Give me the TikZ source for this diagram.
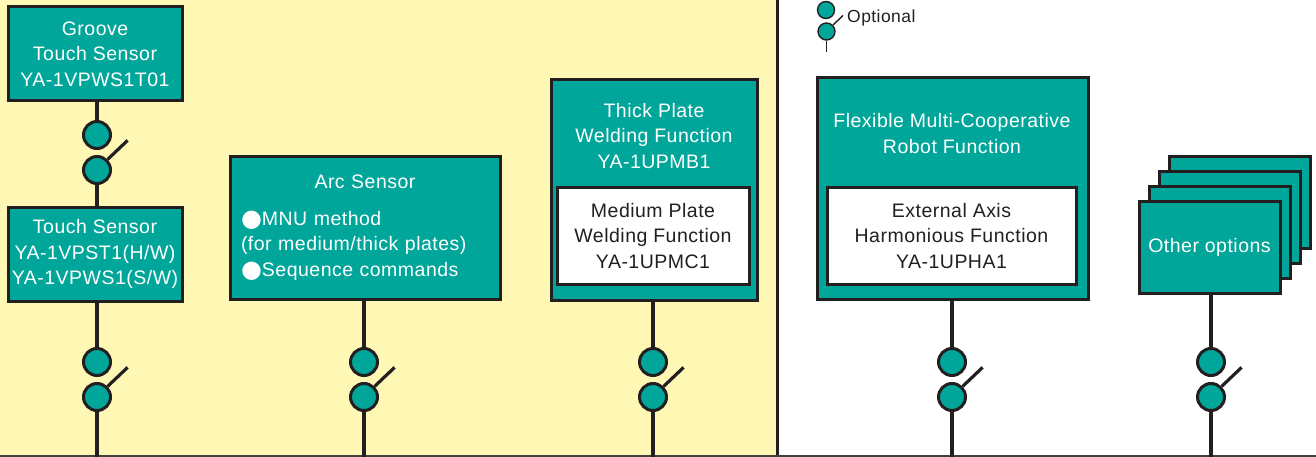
\documentclass[tikz,border=0pt]{standalone}
\usepackage{fontspec}
\setmainfont{Liberation Sans}[LetterSpace=2.5]
\newfontfamily\symfont{DejaVu Sans}
\definecolor{optteal}{RGB}{0,166,153}
\definecolor{panelyel}{RGB}{255,248,180}
\definecolor{inkc}{RGB}{35,31,32}
\newcommand{\blt}{\raisebox{-1.5pt}{\symfont\fontsize{24}{24}\selectfont ●}}

\begin{document}
\begin{tikzpicture}[x=1pt,y=-1pt,
  every node/.style={font=\fontsize{19.5}{25.5}\selectfont},
  optbox/.style={draw=inkc,fill=optteal,line width=3pt,text=white,inner sep=0pt,align=center},
  subbox/.style={draw=inkc,fill=white,line width=3pt,text=inkc,inner sep=0pt,align=center},
  title/.style={text=white,align=center,inner sep=0pt},
  swc/.style={circle,draw=inkc,fill=optteal,line width=3pt,minimum size=27pt,inner sep=0pt},
  legc/.style={circle,draw=inkc,fill=optteal,line width=1.4pt,minimum size=17pt,inner sep=0pt},
  wire/.style={draw=inkc,line width=3.2pt}]
\useasboundingbox (0,0) rectangle (1316,457);
% panels
\fill[panelyel] (0,0) rectangle (777,457);
\draw[inkc,line width=3pt] (777,0) -- (777,457);
\draw[black!75,line width=2pt] (0,456) -- (1316,456);

% legend
\node[legc] (legup) at (826,10) {};
\node[legc] (leglo) at (826.5,31.5) {};
\coordinate (legend) at (826.5,52);
\draw[inkc,line width=1.4pt] (leglo) -- (legend);
\draw[inkc,line width=1.4pt] (leglo.45) -- ++(10,-9.5);
\node[anchor=west,inner sep=0pt,text=inkc,font=\fontsize{17.5}{18}\selectfont] (legtxt) at (847,18) {Optional};

% sensors
\node[optbox,minimum width=174pt,minimum height=94pt] (groove) at (95,54) {Groove\\Touch Sensor\\YA-1VPWS1T01};
\node[optbox,minimum width=174pt,minimum height=94pt] (touch) at (95,254) {Touch Sensor\\YA-1VPST1(H/W)\\YA-1VPWS1(S/W)};
\node[optbox,minimum width=270pt,minimum height=142pt,text width=248pt,align=left] (arc) at (365,228)
  {\makebox[248pt]{Arc Sensor}\\[11pt]\blt MNU method\\(for medium/thick plates)\\\blt Sequence commands};

% plate functions
\node[optbox,minimum width=206pt,minimum height=220pt] (thick) at (654,190) {};
\node[title] (thickt) at (654,136) {Thick Plate\\Welding Function\\YA-1UPMB1};
\node[subbox,minimum width=192pt,minimum height=96pt] (medium) at (653,236) {Medium Plate\\Welding Function\\YA-1UPMC1};

% cooperative
\node[optbox,minimum width=271pt,minimum height=221pt] (flex) at (952.5,188.5) {};
\node[title] (flext) at (952,133.5) {Flexible Multi-Cooperative\\Robot Function};
\node[subbox,minimum width=249pt,minimum height=96pt] (extaxis) at (951.5,236) {External Axis\\Harmonious Function\\YA-1UPHA1};

% other options (stacked)
\foreach \k in {3,2,1}
  \node[optbox,minimum width=141pt,minimum height=92pt] (other\k) at (1209.5+10.3*\k,247-14.7*\k) {};
\node[optbox,minimum width=141pt,minimum height=92pt] (other) at (1209.5,247) {Other options};

% switch between groove and touch
\node[swc] (grooveup) at (97,135) {};
\node[swc] (groovelo) at (97,170) {};
\draw[wire] (grooveup |- groove.south) -- (grooveup);
\draw[wire] (groovelo) -- (groovelo |- touch.north);
\draw[wire] (groovelo.45) -- ++(20,-19);

% switches down to the bus
\foreach \nm/\x in {touch/97,arc/364,thick/653,flex/952,other/1211} {
  \node[swc] (\nm up) at (\x,362) {};
  \node[swc] (\nm lo) at (\x,397) {};
  \coordinate (\nm end) at (\x,457);
  \draw[wire] (\nm up |- \nm.south) -- (\nm up);
  \draw[wire] (\nm lo) -- (\nm end);
  \draw[wire] (\nm lo.45) -- ++(20,-19);
}
\end{tikzpicture}
\end{document}
